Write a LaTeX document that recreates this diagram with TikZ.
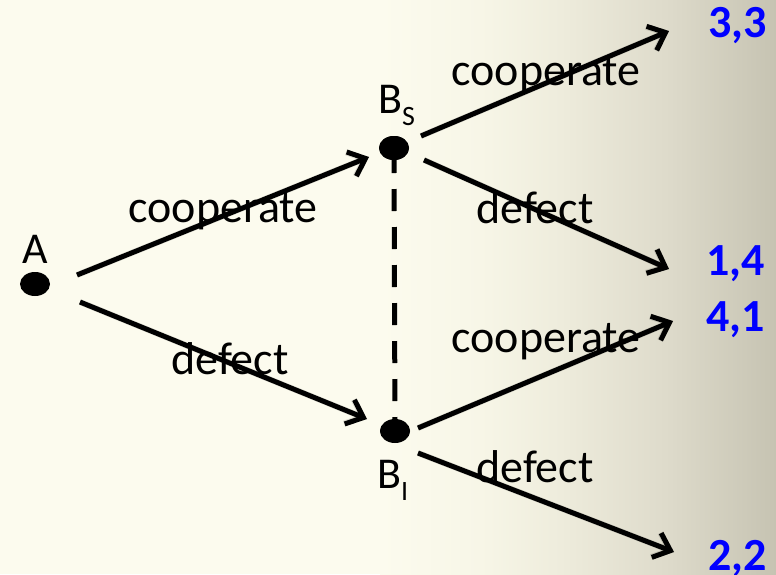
\documentclass[tikz,border=0pt]{standalone}
\usepackage{fontspec}
\setmainfont{Carlito}
\usetikzlibrary{arrows.meta,shapes.geometric}
\definecolor{bgA}{RGB}{252,251,238}
\definecolor{bgB}{RGB}{247,246,231}
\definecolor{bgC}{RGB}{238,236,220}
\definecolor{bgD}{RGB}{221,218,202}
\definecolor{bgE}{RGB}{198,195,178}
\definecolor{payblue}{RGB}{0,0,255}
\begin{document}
\begin{tikzpicture}[x=1pt,y=-1pt,
  dot/.style={ellipse,fill=black,minimum width=30pt,minimum height=24pt,inner sep=0pt},
  lbl/.style={anchor=base,inner sep=0pt,font=\fontsize{46}{50}\selectfont},
  nodelbl/.style={anchor=base west,inner sep=0pt,font=\fontsize{44}{48}\selectfont},
  pay/.style={anchor=base west,inner sep=0pt,text=payblue,font=\fontsize{46}{50}\selectfont\bfseries},
  move/.style={line width=5pt,-{Straight Barb[length=15pt,width=26pt]}},
  moveshadow/.style={line width=6pt,black,opacity=0.12,shift={(2,3)},-{Straight Barb[length=15pt,width=26pt]}},
  info/.style={line width=5pt,dash pattern=on 22pt off 16pt}]
\useasboundingbox (0,0) rectangle (776,574);
% background: piecewise horizontal gradient
\fill[bgA] (0,0) rectangle (381,574);
\shade[left color=bgA,right color=bgB] (380,0) rectangle (481,574);
\shade[left color=bgB,right color=bgC] (480,0) rectangle (561,574);
\shade[left color=bgC,right color=bgD] (560,0) rectangle (671,574);
\shade[left color=bgD,right color=bgE] (670,0) rectangle (776,574);

% decision nodes
\node[dot] (A) at (35,284) {};
\node[dot] (BS) at (394,148) {};
\node[dot] (BI) at (395,431) {};

% node labels
\node[anchor=base,inner sep=0pt,font=\fontsize{44}{48}\selectfont] (Alab) at (35,263) {A};
\node[nodelbl] (BSlab) at (378,113) {B\raisebox{-12pt}{\fontsize{28}{30}\selectfont S}};
\node[nodelbl] (BIlab) at (377,488) {B\raisebox{-12pt}{\fontsize{28}{30}\selectfont I}};

% payoffs
\node[pay] (p33) at (708,37) {3,3};
\node[pay] (p14) at (706,275) {1,4};
\node[pay] (p41) at (706,331) {4,1};
\node[pay] (p22) at (708,570) {2,2};

% arrow end points
\coordinate (a1) at (77,275);  \coordinate (a1e) at (369,157);
\coordinate (a2) at (80,302);  \coordinate (a2e) at (367,419);
\coordinate (s1) at (421,136); \coordinate (s1e) at (669,31);
\coordinate (s2) at (424,160); \coordinate (s2e) at (669,269);
\coordinate (i1) at (418,428); \coordinate (i1e) at (673,321);
\coordinate (i2) at (418,453); \coordinate (i2e) at (674,552);

% soft shadows
\foreach \p/\q in {a1/a1e,a2/a2e,s1/s1e,s2/s2e,i1/i1e,i2/i2e}
  \draw[moveshadow] (\p) -- (\q);

% information set
\draw[info] (BS.center) ++(0,3) coordinate (dtop) -- (BI.center);

% moves
\draw[move] (a1) -- (a1e);
\draw[move] (a2) -- (a2e);
\draw[move] (s1) -- (s1e);
\draw[move] (s2) -- (s2e);
\draw[move] (i1) -- (i1e);
\draw[move] (i2) -- (i2e);

% redraw dots on top of dashes
\fill (BS) ellipse (15pt and 12pt);
\fill (BI) ellipse (15pt and 11pt);

% move labels
\node[lbl] (c1) at (223,222) {cooperate};
\node[lbl] (d1) at (230,374) {defect};
\node[lbl] (c2) at (546,85) {cooperate};
\node[lbl] (d2) at (535,223) {defect};
\node[lbl] (c3) at (546,352) {cooperate};
\node[lbl] (d3) at (535,482) {defect};
\end{tikzpicture}
\end{document}
